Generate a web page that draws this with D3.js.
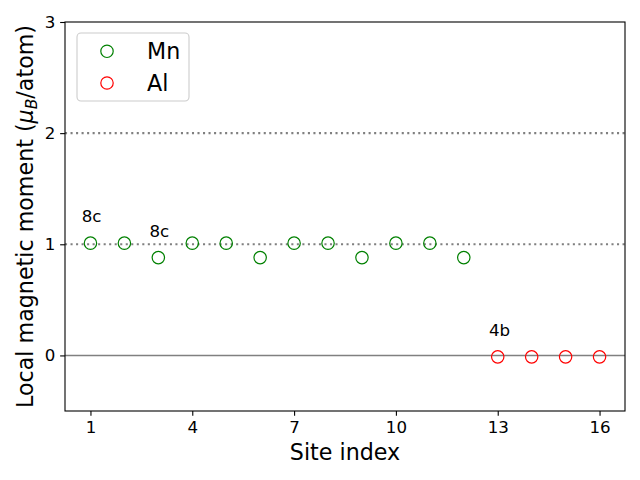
<!DOCTYPE html>
<html>
<head>
<meta charset="utf-8">
<script src="https://cdn.jsdelivr.net/npm/d3@7"></script>
<style>
  body { margin: 0; background: #fff; }
  text { font-family: "DejaVu Sans", sans-serif; fill: #000; }
</style>
</head>
<body>
<script>
// site index and local moment per element
var mnSites = [1, 2, 3, 4, 5, 6, 7, 8, 9, 10, 11, 12];
var mnMoments = [1.01, 1.01, 0.88, 1.01, 1.01, 0.88, 1.01, 1.01, 0.88, 1.01, 1.01, 0.88];
var alSites = [13, 14, 15, 16];
var alMoments = [-0.013, -0.013, -0.013, -0.013];

// Wyckoff labels: text, site, value
var siteLabels = ["8c", "8c", "4b"];
var siteLabelX = [1, 3, 13];
var siteLabelY = [1.01, 0.88, -0.013];

var xTicks = [1, 4, 7, 10, 13, 16];
var yTicks = [0, 1, 2, 3];
var refLines = [1, 2];

var W = 640, H = 480;
var margin = { top: 22, right: 15, bottom: 69, left: 65 };

var svg = d3.select("body").append("svg")
    .attr("width", W)
    .attr("height", H);

var x = d3.scaleLinear().domain([0.25, 16.75]).range([margin.left, W - margin.right]);
var y = d3.scaleLinear().domain([-0.5, 3]).range([H - margin.bottom, margin.top]);

var tick = 4.86;

// dotted reference lines
svg.selectAll(".ref")
    .data(refLines)
    .enter().append("line")
    .attr("x1", x.range()[0]).attr("x2", x.range()[1])
    .attr("y1", d => y(d)).attr("y2", d => y(d))
    .attr("stroke", "#808080")
    .attr("stroke-width", 2.08)
    .attr("stroke-dasharray", "2.08,3.44");

// zero line
svg.append("line")
    .attr("x1", x.range()[0]).attr("x2", x.range()[1])
    .attr("y1", y(0)).attr("y2", y(0))
    .attr("stroke", "#808080")
    .attr("stroke-width", 1.5);

function drawPoints(sites, vals, color) {
    svg.append("g").selectAll("circle")
        .data(sites)
        .enter().append("circle")
        .attr("cx", d => x(d))
        .attr("cy", (d, i) => y(vals[i]))
        .attr("r", 6.2)
        .attr("fill", "none")
        .attr("stroke", color)
        .attr("stroke-width", 1.2);
}
drawPoints(mnSites, mnMoments, "#008000");
drawPoints(alSites, alMoments, "#ff0000");

svg.selectAll(".lbl")
    .data(siteLabels)
    .enter().append("text")
    .attr("class", "lbl")
    .attr("x", (d, i) => x(siteLabelX[i] - 0.26))
    .attr("y", (d, i) => y(siteLabelY[i] + 0.19))
    .style("font-size", "16.67px")
    .text(d => d);

// axes
var xAxis = d3.axisBottom(x).tickValues(xTicks).tickSize(tick).tickSizeOuter(0).tickPadding(4.86);
var yAxis = d3.axisLeft(y).tickValues(yTicks).tickFormat(d3.format("d"))
    .tickSize(tick).tickSizeOuter(0).tickPadding(4.86);

var gx = svg.append("g")
    .attr("transform", "translate(0," + y.range()[0] + ")")
    .call(xAxis);
var gy = svg.append("g")
    .attr("transform", "translate(" + x.range()[0] + ",0)")
    .call(yAxis);

[gx, gy].forEach(g => {
    g.attr("font-size", null).attr("font-family", null);
    g.select(".domain").remove();
    g.selectAll("line").attr("stroke", "#000").attr("stroke-width", 1.1);
    g.selectAll("text").style("font-size", "16.67px").attr("fill", "#000");
});

// frame
svg.append("rect")
    .attr("x", x.range()[0]).attr("y", y.range()[1])
    .attr("width", x.range()[1] - x.range()[0])
    .attr("height", y.range()[0] - y.range()[1])
    .attr("fill", "none")
    .attr("stroke", "#000")
    .attr("stroke-width", 1.1);

// axis labels
svg.append("text")
    .attr("x", (x.range()[0] + x.range()[1]) / 2)
    .attr("y", 460)
    .attr("text-anchor", "middle")
    .style("font-size", "22.2px")
    .text("Site index");

var yl = svg.append("text")
    .attr("transform", "translate(33," + ((y.range()[0] + y.range()[1]) / 2) + ") rotate(-90)")
    .attr("text-anchor", "middle")
    .style("font-size", "22.2px");
yl.append("tspan").text("Local magnetic moment (");
yl.append("tspan").style("font-style", "italic").text("\u03bc");
yl.append("tspan").style("font-style", "italic").style("font-size", "15.5px").attr("dy", 4).text("B");
yl.append("tspan").attr("dy", -4).text("/atom)");

// legend
var legendNames = ["Mn", "Al"];
var legendColors = ["#008000", "#ff0000"];
var lg = svg.append("g");
lg.append("rect")
    .attr("x", 77).attr("y", 33)
    .attr("width", 112).attr("height", 68)
    .attr("rx", 4)
    .attr("fill", "#fff").attr("fill-opacity", 0.8)
    .attr("stroke", "#cccccc").attr("stroke-width", 1.1);
legendNames.forEach((n, i) => {
    lg.append("circle")
        .attr("cx", 107).attr("cy", 51.3 + i * 31.7)
        .attr("r", 6.2)
        .attr("fill", "none")
        .attr("stroke", legendColors[i])
        .attr("stroke-width", 1.2);
    lg.append("text")
        .attr("x", 147).attr("y", 51.3 + i * 31.7 + 8)
        .style("font-size", "22.2px")
        .text(n);
});
</script>
</body>
</html>
